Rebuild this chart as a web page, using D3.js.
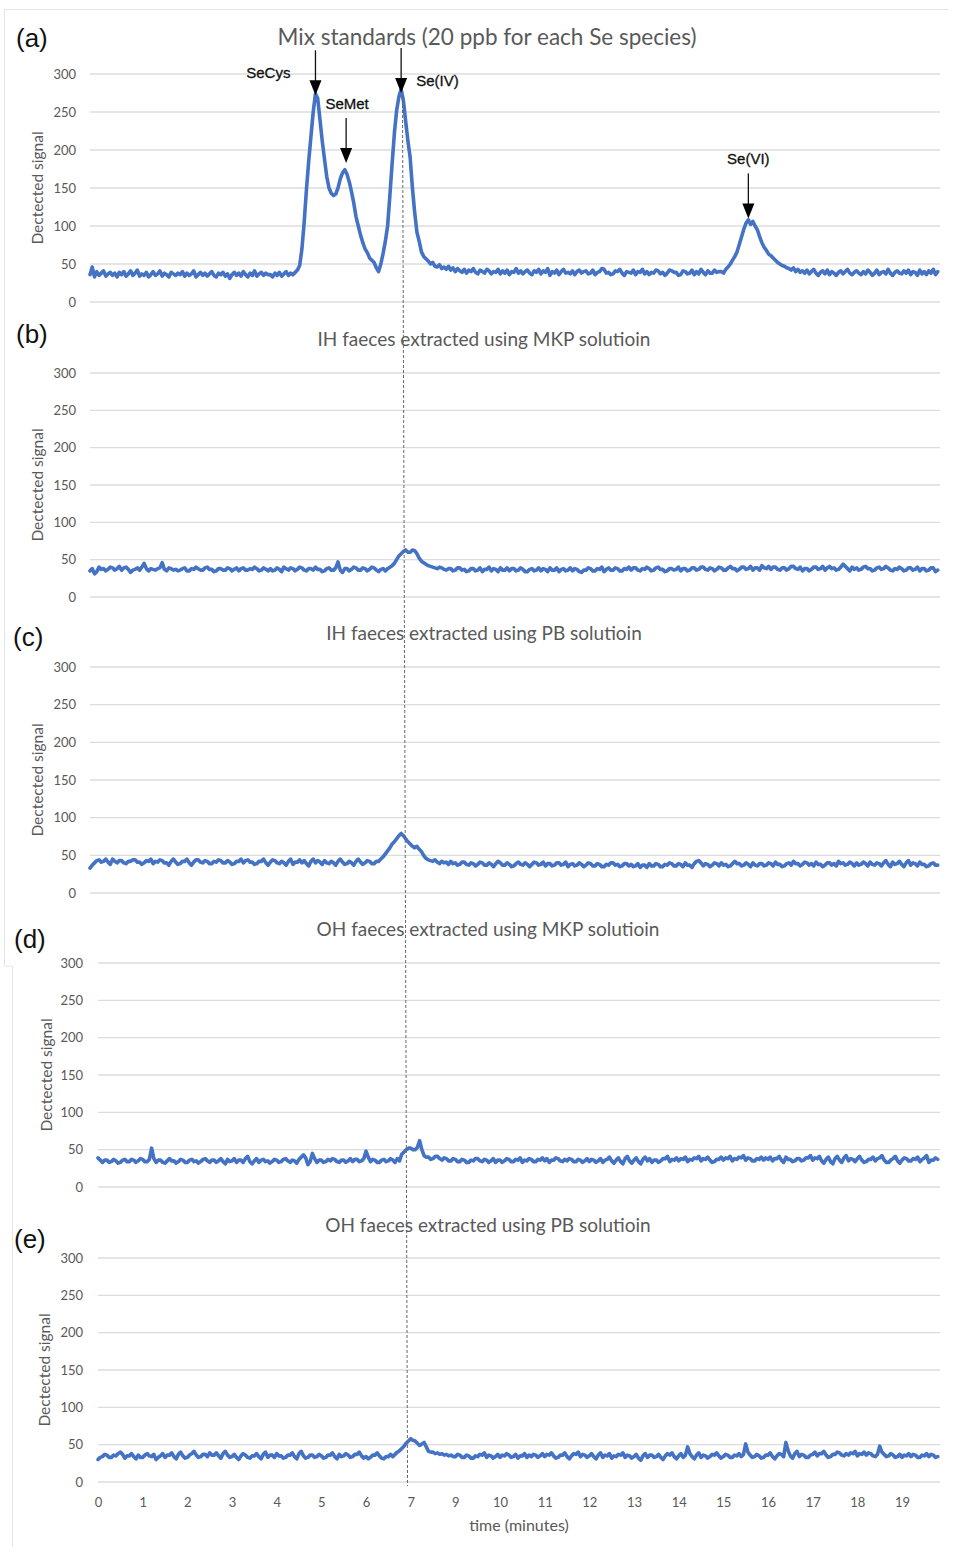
<!DOCTYPE html>
<html>
<head>
<meta charset="utf-8">
<script src="https://cdn.jsdelivr.net/npm/d3@7"></script>
<style>
  html, body { margin: 0; padding: 0; background: #fff; }
  svg { display: block; }
</style>
</head>
<body>
<svg id="chart" width="955" height="1547"></svg>
<script>
// ---- Data -------------------------------------------------------------
// Detector readings sampled every 0.05 axis unit, starting at 0 (20 per row = 1 unit).
const sampleStep = 0.05;

// Category labels printed under the bottom panel (one per axis unit).
const tickLabels = ["0", "1", "2", "3", "4", "5", "6", "7", "9", "10",
                    "11", "12", "13", "14", "15", "16", "17", "18", "19"];
const yTicks = [0, 50, 100, 150, 200, 250, 300];

const panelLetters = ["(a)", "(b)", "(c)", "(d)", "(e)"];
const panelTitles = [
  "Mix standards (20 ppb for each Se species)",
  "IH faeces extracted using MKP solutioin",
  "IH faeces extracted using PB solutioin",
  "OH faeces extracted using MKP solutioin",
  "OH faeces extracted using PB solutioin"
];

// (a) mixed Se standards
const signalMix = [
  36,46,33,40,35,38,41,34,37,39,35,38,33,39,36,40,34,37,41,35,
  38,42,34,37,35,39,33,36,40,35,37,41,34,38,36,33,39,37,35,38,
  36,40,34,38,35,37,41,33,36,39,35,38,34,37,40,35,33,38,36,39,
  34,37,31,36,39,35,38,34,40,36,33,38,35,41,34,37,39,35,38,36,
  36,33,38,35,39,34,37,40,35,38,36,39,42,48,70,105,148,185,218,250,
  274,268,240,212,188,165,150,143,140,142,150,162,170,174,168,158,145,130,112,100,
  88,78,70,65,58,55,52,45,40,50,64,80,100,140,182,222,252,270,280,265,
  238,212,190,150,118,92,80,66,60,57,54,50,52,47,46,49,44,46,43,47,
  42,45,40,44,41,39,43,38,42,40,44,39,37,42,40,38,43,41,37,40,
  39,43,37,41,38,42,36,40,39,44,38,41,37,40,42,38,36,41,39,43,
  37,41,39,44,35,40,38,42,36,40,43,38,39,37,41,36,40,42,38,40,
  41,37,38,42,36,39,40,44,43,38,39,36,37,41,40,43,38,35,40,39,
  38,42,36,40,39,43,37,40,36,39,38,42,41,37,39,35,38,42,41,39,
  39,35,36,41,40,37,38,42,36,40,37,43,39,36,41,38,38,42,39,40,
  40,38,43,46,50,55,60,66,76,86,96,104,108,102,106,100,95,86,78,72,
  68,63,61,58,55,52,50,48,47,45,44,42,45,40,43,39,41,38,42,37,
  40,43,38,35,39,41,37,42,36,40,38,35,39,41,37,40,43,38,36,39,
  41,38,36,40,37,42,39,35,38,42,36,39,40,37,43,38,35,39,41,38,
  37,41,38,42,36,40,39,35,42,37,40,36,41,38,43,36,40
];

// (b) IH faeces, MKP extraction
const signalIhMkp = [
  35,38,31,34,40,37,38,35,37,40,39,36,38,41,36,39,40,37,33,36,
  37,39,36,40,45,38,35,38,37,36,38,39,46,37,35,39,38,36,37,35,
  36,38,39,35,35,38,37,40,38,36,36,39,40,37,37,34,35,38,38,36,
  36,39,38,35,37,39,35,38,39,36,36,38,37,40,38,35,36,39,37,35,
  38,35,36,39,37,34,40,38,36,39,38,35,37,40,39,36,35,38,38,36,
  40,37,37,34,35,38,39,36,36,39,47,36,33,38,38,35,37,40,39,36,
  36,39,38,35,37,40,39,36,34,37,38,35,38,40,42,45,50,55,58,61,
  63,60,60,63,62,58,52,48,46,44,42,41,40,39,38,40,39,37,36,38,
  38,35,36,39,39,36,37,34,35,38,38,35,36,39,34,37,37,40,35,38,
  37,34,39,36,36,39,35,38,38,35,36,39,37,34,34,37,38,35,36,39,
  35,38,37,34,39,36,36,39,34,37,38,35,36,39,35,38,37,34,33,36,
  36,39,38,35,35,38,37,40,34,37,39,36,36,39,38,35,35,38,37,40,
  36,39,39,36,35,38,37,40,38,35,36,39,40,37,37,34,35,38,38,36,
  37,40,35,38,38,35,36,39,39,36,37,40,40,37,36,39,38,35,37,40,
  39,36,36,39,41,38,38,35,37,40,40,37,38,41,36,39,39,36,42,39,
  38,41,37,40,40,37,36,39,39,36,38,41,41,38,37,40,35,38,38,35,
  37,40,40,37,38,41,36,39,41,38,39,36,37,40,44,41,38,35,40,37,
  39,36,37,40,41,38,38,35,36,39,40,37,38,41,39,36,35,38,37,40,
  38,35,36,39,39,36,37,40,35,38,38,35,36,39,39,34,36
];

// (c) IH faeces, PB extraction
const signalIhPb = [
  33,37,40,43,44,41,42,45,41,38,45,42,40,43,43,40,39,42,42,44,
  44,41,41,38,40,43,42,45,39,42,41,44,43,40,40,37,42,45,41,38,
  39,42,42,45,40,37,41,44,44,41,40,43,42,39,39,42,41,44,43,40,
  40,43,41,38,39,42,42,45,40,43,44,41,41,38,39,42,42,45,40,37,
  41,44,43,40,39,42,40,37,42,45,38,41,41,44,40,43,39,36,42,45,
  40,43,41,38,43,40,39,42,40,37,42,45,41,38,39,42,40,37,42,45,
  41,38,40,43,42,39,39,42,42,45,48,52,56,60,65,68,72,76,79,76,
  72,68,65,62,60,62,58,55,50,46,44,43,42,44,41,39,42,40,41,38,
  42,39,40,37,38,41,41,38,37,40,39,36,38,41,40,37,37,40,38,35,
  39,42,40,37,37,40,38,35,36,39,41,38,37,40,38,35,38,41,40,37,
  38,41,36,39,39,36,37,40,40,37,38,41,35,38,39,36,37,40,38,35,
  37,40,39,36,36,39,38,35,35,38,37,40,40,37,38,35,36,39,39,36,
  38,35,36,39,34,37,37,34,39,36,36,39,38,35,35,38,37,40,39,36,
  36,39,38,35,40,37,37,34,39,42,43,40,36,39,38,35,37,40,39,36,
  40,37,38,35,36,39,42,39,39,36,37,40,38,35,40,37,36,39,39,36,
  37,40,39,36,41,38,38,35,36,39,40,37,42,39,39,36,38,41,40,37,
  39,36,41,38,38,35,37,40,40,37,39,36,42,39,40,37,38,41,39,36,
  40,37,38,41,39,36,41,38,37,40,39,36,40,43,38,35,41,38,39,42,
  38,35,40,43,37,40,39,36,41,38,38,35,36,39,40,37,37
];

// (d) OH faeces, MKP extraction
const signalOhMkp = [
  39,36,33,36,36,33,34,37,35,32,33,36,37,34,34,37,36,33,35,38,
  37,34,34,37,52,38,33,36,36,33,32,35,38,35,35,32,34,37,36,33,
  33,36,37,34,35,32,34,37,38,35,33,36,36,33,35,38,34,31,37,34,
  35,38,33,36,36,33,38,41,34,31,35,38,33,36,37,34,35,32,34,37,
  36,33,34,37,38,35,33,36,35,32,37,40,43,39,30,34,45,38,33,36,
  36,33,34,37,35,38,37,34,33,36,36,33,35,38,34,37,37,34,35,38,
  48,40,34,37,36,33,33,36,37,34,35,38,36,33,38,35,44,47,50,52,
  52,50,50,53,62,50,42,40,40,37,38,41,41,38,36,39,38,35,35,38,
  37,34,34,37,36,33,33,36,35,38,38,35,34,37,36,33,35,38,33,36,
  36,33,35,38,37,34,34,37,36,39,33,36,35,38,37,34,34,37,36,39,
  35,38,33,36,36,39,38,35,34,37,35,38,37,34,34,37,36,33,35,38,
  34,37,36,33,35,38,33,36,37,40,35,32,36,39,34,31,38,41,35,32,
  36,39,34,31,37,40,35,38,33,36,36,33,35,38,38,41,34,37,36,39,
  35,38,37,40,34,37,36,39,38,41,35,38,37,40,36,33,34,37,37,40,
  36,39,38,41,35,38,37,40,39,42,36,39,38,35,35,38,37,40,36,39,
  37,40,35,38,38,41,36,33,40,37,37,34,35,38,38,35,36,39,39,42,
  36,39,38,41,35,32,37,40,34,31,38,41,36,33,39,42,35,38,37,34,
  38,41,36,33,34,37,37,40,35,38,39,42,36,33,33,36,38,41,35,32,
  36,39,38,35,35,38,37,40,34,37,39,42,33,36,36,39,37
];

// (e) OH faeces, PB extraction
const signalOhPb = [
  30,33,34,37,36,33,33,36,35,38,40,37,32,35,35,38,34,31,36,33,
  33,36,38,35,34,37,30,33,35,38,33,36,36,39,34,31,37,40,35,32,
  33,36,38,41,36,33,34,37,37,34,39,36,36,39,35,32,38,41,36,33,
  34,37,33,30,35,38,36,33,32,35,35,38,34,31,37,40,33,36,36,33,
  38,35,35,32,33,36,36,39,34,31,38,41,35,32,33,36,36,33,34,37,
  35,32,33,36,36,39,34,31,37,34,35,38,36,33,34,37,37,40,35,32,
  34,31,33,36,36,39,35,32,31,34,34,37,34,37,40,42,45,48,52,55,
  58,56,55,52,49,51,53,47,41,40,40,38,39,37,38,36,37,35,36,34,
  34,37,36,33,33,36,35,32,32,35,34,37,36,39,33,36,35,32,34,37,
  33,36,35,38,36,33,34,37,32,35,35,38,33,36,34,37,36,33,35,38,
  34,37,36,39,35,32,33,36,36,39,34,31,35,38,37,40,34,37,36,33,
  35,38,34,31,36,39,33,36,35,38,32,35,34,37,36,39,33,36,35,32,
  34,37,32,29,35,38,33,36,36,33,34,37,33,30,35,38,36,39,34,31,
  35,38,33,36,47,38,34,31,36,39,33,36,35,32,34,37,36,39,35,32,
  34,37,36,33,33,36,35,38,34,37,51,40,36,33,34,37,35,32,33,36,
  36,39,34,31,35,38,37,34,53,42,35,32,38,41,34,37,36,33,33,36,
  37,40,35,38,38,41,36,33,34,37,37,40,39,36,35,38,36,39,38,41,
  35,38,37,40,36,39,38,35,34,37,48,40,37,34,35,38,36,33,34,37,
  33,36,35,38,34,37,36,33,33,36,35,38,34,37,36,33,34
];

const panelSignals = [signalMix, signalIhMkp, signalIhPb, signalOhMkp, signalOhPb];

// Peak annotations on the standards trace
const peakNames = ["SeCys", "SeMet", "Se(IV)", "Se(VI)"];
const peakTimes = [5.0, 5.68, 6.9, 14.6];
const peakArrowValues = [272, 183, 275, 110];

// Retention time of the Se(IV) reference line carried through all panels
const referenceTime = 6.93;

// ---- Layout -----------------------------------------------------------
const xMax = 18.85;
const plotRight = 940;
const panels = [
  { left: 90, top: 74,   bottom: 302,  tickEnd: 76, titleX: 38, letterX: 16, letterY: 47,   headX: 487, headY: 45,   headSize: 22.5 },
  { left: 90, top: 373,  bottom: 597,  tickEnd: 76, titleX: 38, letterX: 16, letterY: 343,  headX: 484, headY: 346,  headSize: 19 },
  { left: 90, top: 667,  bottom: 893,  tickEnd: 76, titleX: 38, letterX: 13, letterY: 646,  headX: 484, headY: 640,  headSize: 19 },
  { left: 98, top: 963,  bottom: 1187, tickEnd: 83, titleX: 47, letterX: 14, letterY: 948,  headX: 488, headY: 936,  headSize: 19 },
  { left: 98, top: 1258, bottom: 1482, tickEnd: 83, titleX: 45, letterX: 14, letterY: 1248, headX: 488, headY: 1232, headSize: 19 }
];

const labelFont = "Lato, 'Open Sans', sans-serif";
const inkGray = "#595959";
const lineBlue = "#4472C4";

const svg = d3.select("#chart");

// faint outer frame of the figure
const frame = svg.append("g").attr("stroke", "#e4e4e4").attr("stroke-width", 1).attr("fill", "none");
frame.append("path").attr("d", "M4.5,966 L4.5,9.5 L948,9.5");
frame.append("path").attr("d", "M4.5,966 L12.5,966 L12.5,1547");

panels.forEach((p, i) => {
  const x = d3.scaleLinear().domain([0, xMax]).range([p.left, plotRight]);
  const y = d3.scaleLinear().domain([0, 300]).range([p.bottom, p.top]);
  p.x = x; p.y = y;
  const g = svg.append("g");

  // horizontal gridlines
  g.append("g").selectAll("line").data(yTicks).join("line")
    .attr("x1", p.left).attr("x2", plotRight)
    .attr("y1", d => y(d)).attr("y2", d => y(d))
    .attr("stroke", "#dcdcdc").attr("stroke-width", 1.4);

  // y tick labels
  const yAxis = g.append("g")
    .attr("transform", `translate(${p.left},0)`)
    .call(d3.axisLeft(y).tickValues(yTicks).tickSize(0).tickPadding(p.left - p.tickEnd));
  yAxis.select(".domain").remove();
  yAxis.selectAll("text").attr("fill", inkGray).attr("font-family", labelFont).attr("font-size", 13);

  // y axis title
  g.append("text")
    .attr("transform", `translate(${p.titleX},${(p.top + p.bottom) / 2}) rotate(-90)`)
    .attr("text-anchor", "middle").attr("dy", "0.35em")
    .attr("fill", inkGray).attr("font-family", labelFont).attr("font-size", 15.5)
    .text("Dectected signal");

  // panel heading
  g.append("text")
    .attr("x", p.headX).attr("y", p.headY).attr("text-anchor", "middle")
    .attr("fill", inkGray).attr("font-family", labelFont).attr("font-size", p.headSize)
    .text(panelTitles[i]);

  // panel letter
  g.append("text")
    .attr("x", p.letterX).attr("y", p.letterY)
    .attr("fill", "#111").attr("font-family", "'Liberation Sans', Arial, sans-serif").attr("font-size", 26)
    .text(panelLetters[i]);

  // signal trace
  const line = d3.line()
    .x((d, k) => x(k * sampleStep))
    .y(d => y(d));
  g.append("path")
    .datum(panelSignals[i])
    .attr("d", line)
    .attr("fill", "none").attr("stroke", lineBlue)
    .attr("stroke-width", 3.6).attr("stroke-linejoin", "round").attr("stroke-linecap", "round");
});

// x axis under the last panel
const last = panels[panels.length - 1];
const xAxis = svg.append("g")
  .attr("transform", `translate(0,${last.bottom})`)
  .call(d3.axisBottom(last.x).tickValues(d3.range(tickLabels.length)).tickFormat(k => tickLabels[k]).tickSize(0).tickPadding(16));
xAxis.select(".domain").remove();
xAxis.selectAll("text").attr("fill", inkGray).attr("font-family", labelFont).attr("font-size", 13);

svg.append("text")
  .attr("x", 519).attr("y", 1531).attr("text-anchor", "middle")
  .attr("fill", inkGray).attr("font-family", labelFont).attr("font-size", 16)
  .text("time (minutes)");

// dashed reference line through every panel
svg.append("line")
  .attr("x1", panels[0].x(referenceTime)).attr("y1", 95)
  .attr("x2", last.x(referenceTime)).attr("y2", 1486)
  .attr("stroke", "#666").attr("stroke-width", 1).attr("stroke-dasharray", "3,2");

// peak arrows and names on panel (a)
const pa = panels[0];
const arrowLen = 45;
const labelPlacement = {
  "SeCys":  { anchor: "end",    dx: -25, dyFromTop: 28 },
  "SeMet":  { anchor: "middle", dx: 1,   dyFromTop: -9 },
  "Se(IV)": { anchor: "start",  dx: 15,  dyFromTop: 38 },
  "Se(VI)": { anchor: "middle", dx: 0,   dyFromTop: -9 }
};
const ann = svg.append("g");
peakNames.forEach((name, k) => {
  const ax = pa.x(peakTimes[k]);
  const tip = pa.y(peakArrowValues[k]);
  const top = tip - arrowLen;
  ann.append("line")
    .attr("x1", ax).attr("x2", ax).attr("y1", top).attr("y2", tip - 12)
    .attr("stroke", "#111").attr("stroke-width", 1.3);
  ann.append("path")
    .attr("d", `M${ax - 6},${tip - 15} L${ax + 6},${tip - 15} L${ax},${tip} Z`)
    .attr("fill", "#000");
  const lp = labelPlacement[name];
  ann.append("text")
    .attr("x", ax + lp.dx).attr("y", top + lp.dyFromTop)
    .attr("text-anchor", lp.anchor)
    .attr("fill", "#111").attr("font-family", "'Liberation Sans', Arial, sans-serif")
    .attr("font-size", 15).attr("stroke", "#111").attr("stroke-width", 0.3)
    .text(name);
});
</script>
</body>
</html>
